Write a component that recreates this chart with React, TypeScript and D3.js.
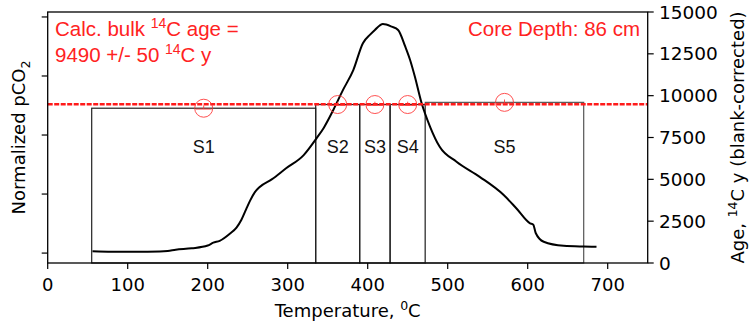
import React from "react";
import * as d3 from "d3";

const temps = [56, 80, 110, 140, 150, 160, 180, 200, 207, 215, 228, 236, 242, 248, 253, 259, 265, 280, 298, 320, 336, 345, 357, 369, 382, 394, 403, 409, 419, 430, 438, 447, 453, 459, 467, 478, 490, 511, 540, 570, 586, 603, 607, 610, 620, 645, 670, 686];
const pco2 = [0.008, 0.006, 0.006, 0.007, 0.009, 0.014, 0.02, 0.032, 0.044, 0.052, 0.083, 0.108, 0.14, 0.185, 0.222, 0.258, 0.28, 0.312, 0.359, 0.415, 0.486, 0.53, 0.606, 0.69, 0.775, 0.889, 0.925, 0.945, 0.97, 0.959, 0.945, 0.874, 0.818, 0.747, 0.64, 0.535, 0.45, 0.387, 0.323, 0.246, 0.189, 0.126, 0.12, 0.085, 0.048, 0.031, 0.028, 0.027];

const splitNames = ["S1", "S2", "S3", "S4", "S5"];
const splitStart = [55, 335, 390, 428, 472];
const splitEnd = [335, 390, 428, 472, 670];
const splitAge = [9250, 9470, 9470, 9470, 9600];
const splitErr = [50, 50, 50, 50, 50];

const bulkAge = 9490;
const xTicks = [0, 100, 200, 300, 400, 500, 600, 700];
const ageTicks = [0, 2500, 5000, 7500, 10000, 12500, 15000];
const normTicks = [0, 0.25, 0.5, 0.75, 1];

const W = 750, H = 327;
const L = 47.7, R = 647.7, T = 12, B = 263;

export default function App() {
  const x = d3.scaleLinear().domain([0, 750]).range([L, R]);
  const yAge = d3.scaleLinear().domain([0, 15000]).range([B, T]);
  const yN = d3.scaleLinear().domain([-0.042, 1.021]).range([B, T]);
  const line = d3
    .line<number>()
    .x((_, i) => x(temps[i]))
    .y((d) => yN(d))
    .curve(d3.curveMonotoneX);
  const dv = "DejaVu Sans, sans-serif";
  const ar = "Liberation Sans, Arial, sans-serif";
  return (
    <svg width={W} height={H} style={{ position: "absolute", left: 0, top: 0, background: "#fff" }}>
      <rect x={0} y={0} width={W} height={H} fill="#fff" />
      {splitNames.map((n, i) => (
        <rect
          key={n}
          x={x(splitStart[i])}
          y={yAge(splitAge[i])}
          width={x(splitEnd[i]) - x(splitStart[i])}
          height={yAge(0) - yAge(splitAge[i])}
          fill="none"
          stroke={i === 4 ? "#555" : "#222"}
          strokeWidth={1.2}
        />
      ))}
      {splitNames.map((n, i) => (
        <text
          key={"t" + n}
          x={x((splitStart[i] + splitEnd[i]) / 2)}
          y={153}
          textAnchor="middle"
          fontFamily={ar}
          fontSize={18}
          fill="#111"
        >
          {n}
        </text>
      ))}
      <path d={line(pco2) || ""} fill="none" stroke="#000" strokeWidth={2} />
      <line x1={L} x2={R} y1={yAge(bulkAge)} y2={yAge(bulkAge)} stroke="#ff1a1a" strokeWidth={2.4} strokeDasharray="5,1.5" />
      {splitNames.map((n, i) => {
        const cx = x((splitStart[i] + splitEnd[i]) / 2);
        const cy = yAge(splitAge[i]);
        return (
          <g key={"c" + n} stroke="#f33" fill="none" opacity={0.85}>
            <circle cx={cx} cy={cy} r={9} strokeWidth={1} />
            <line x1={cx - 8} x2={cx + 8} y1={yAge(splitAge[i] - splitErr[i])} y2={yAge(splitAge[i] - splitErr[i])} strokeWidth={1} />
            <line x1={cx} x2={cx} y1={yAge(splitAge[i] - splitErr[i])} y2={yAge(splitAge[i] + splitErr[i]) - 2} strokeWidth={1} />
          </g>
        );
      })}
      <rect x={L} y={T} width={R - L} height={B - T} fill="none" stroke="#000" strokeWidth={1.3} />
      {xTicks.map((t) => (
        <g key={"x" + t}>
          <line x1={x(t)} x2={x(t)} y1={B} y2={B + 6} stroke="#000" strokeWidth={1.2} />
          <text x={x(t)} y={291} textAnchor="middle" fontFamily={dv} fontSize={18} fill="#000">
            {t}
          </text>
        </g>
      ))}
      {normTicks.map((t) => (
        <line key={"n" + t} x1={L - 6} x2={L} y1={yN(t)} y2={yN(t)} stroke="#000" strokeWidth={1.2} />
      ))}
      {ageTicks.map((t) => (
        <g key={"a" + t}>
          <line x1={R} x2={R + 6} y1={yAge(t)} y2={yAge(t)} stroke="#000" strokeWidth={1.2} />
          <text x={659} y={yAge(t)} dy="0.36em" textAnchor="start" fontFamily={dv} fontSize={18.5} fill="#000">
            {t}
          </text>
        </g>
      ))}
      <text x={(L + R) / 2} y={317} textAnchor="middle" fontFamily={dv} fontSize={18} fill="#000">
        Temperature, <tspan dy={-7} fontSize={12.5}>0</tspan>
        <tspan dy={7}>C</tspan>
      </text>
      <text transform={`translate(25,${(T + B) / 2}) rotate(-90)`} textAnchor="middle" fontFamily={dv} fontSize={18} fill="#000">
        Normalized pCO<tspan dy={5} fontSize={12.5}>2</tspan>
      </text>
      <text transform={`translate(744,${(T + B) / 2}) rotate(-90)`} textAnchor="middle" fontFamily={dv} fontSize={18} fill="#000">
        Age, <tspan dy={-7} fontSize={12.5}>14</tspan>
        <tspan dy={7}>C y (blank-corrected)</tspan>
      </text>
      <text x={55} y={36} fontFamily={ar} fontSize={20.5} fill="#f22">
        Calc. bulk <tspan dy={-8} fontSize={14}>14</tspan>
        <tspan dy={8}>C age =</tspan>
      </text>
      <text x={55} y={62} fontFamily={ar} fontSize={20.5} fill="#f22">
        9490 +/- 50 <tspan dy={-8} fontSize={14}>14</tspan>
        <tspan dy={8}>C y</tspan>
      </text>
      <text x={640} y={36} textAnchor="end" fontFamily={ar} fontSize={20.5} fill="#f22">
        Core Depth: 86 cm
      </text>
    </svg>
  );
}
